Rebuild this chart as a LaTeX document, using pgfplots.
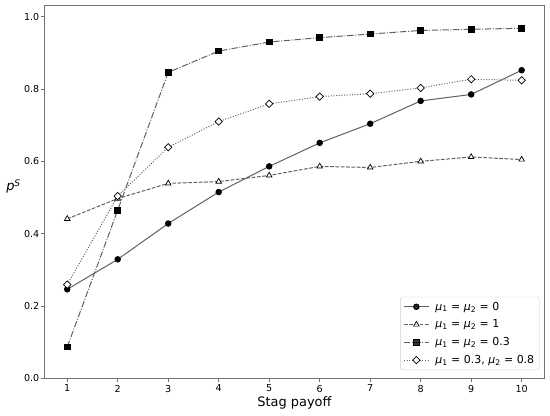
\documentclass[border=0pt]{standalone}
\usepackage{pgfplots}
\pgfplotsset{compat=1.18}
\usepackage{fontspec}
\setmainfont{DejaVu Sans}
\newcommand{\mui}[1]{{\itshape μ}\textsubscript{#1}}
\definecolor{linegray}{gray}{0.38}
\definecolor{framegray}{gray}{0.45}

\begin{document}
\begin{tikzpicture}
\path[use as bounding box] (-44.5bp,-37.7bp) rectangle (505.5bp,378.3bp);
\begin{axis}[
    scale only axis,
    width=499.9bp, height=373bp,
    xmin=0.55, xmax=10.45, ymin=0, ymax=1.0315,
    xtick={1,2,3,4,5,6,7,8,9,10},
    ytick={0,0.2,0.4,0.6,0.8,1.0},
    /pgf/number format/assume math mode=true,
    tick label style={font=\fontsize{9.6}{11.5}\selectfont},
    xticklabel style={yshift=0.3bp},
    yticklabel style={xshift=1.8bp},
    yticklabel={\pgfmathprintnumber[fixed, fixed zerofill, precision=1]{\tick}},
    tick align=outside, xtick pos=left, ytick pos=left,
    major tick length=3.5bp,
    every tick/.style={framegray, line width=0.8bp},
    axis line style={framegray, line width=0.8bp},
    xlabel={Stag payoff},
    xlabel style={font=\fontsize{13}{15}\selectfont, at={(axis description cs:0.5,0)}, anchor=base, yshift=-28.4bp},
    ylabel={{\itshape p}\textsuperscript{\itshape S}},
    ylabel style={font=\fontsize{13}{15}\selectfont, rotate=-90, at={(axis description cs:-0.062,0.515)}, anchor=center},
    legend cell align=left,
    legend style={at={(0.99,0.022)}, anchor=south east, font=\fontsize{11}{13}\selectfont,
        draw=black!20, rounded corners=2bp, fill=white, fill opacity=0.8, text opacity=1,
        row sep=4.2bp, inner sep=3bp},
    legend image code/.code={\draw[mark repeat=2, mark phase=2] plot coordinates {(0bp,0bp) (12.5bp,0bp) (25bp,0bp)};
        \path (29bp,0bp);},
]
\addplot[linegray, line width=1bp, mark=*, mark size=2.7bp, mark options={solid, fill=black, draw=black}]
  coordinates {(1,0.246) (2,0.329) (3,0.428) (4,0.515) (5,0.586) (6,0.651) (7,0.704) (8,0.767) (9,0.785) (10,0.852)};
\addplot[linegray, line width=1bp, dash pattern=on 3.7bp off 1.6bp, mark=triangle*, mark size=3.2bp, mark options={solid, fill=white, draw=black, line width=0.7bp}]
  coordinates {(1,0.441) (2,0.497) (3,0.539) (4,0.544) (5,0.561) (6,0.586) (7,0.583) (8,0.600) (9,0.612) (10,0.605)};
\addplot[linegray, line width=1bp, dash pattern=on 6.4bp off 1.6bp on 1bp off 1.6bp, mark=square*, mark size=2.9bp, mark options={solid, fill=black, draw=black}]
  coordinates {(1,0.0865) (2,0.465) (3,0.846) (4,0.905) (5,0.930) (6,0.942) (7,0.952) (8,0.962) (9,0.965) (10,0.968)};
\addplot[linegray, line width=1bp, dash pattern=on 1bp off 1.65bp, mark=square*, mark size=2.6bp, mark options={solid, rotate=45, fill=white, draw=black, line width=0.7bp}]
  coordinates {(1,0.259) (2,0.504) (3,0.639) (4,0.710) (5,0.759) (6,0.779) (7,0.787) (8,0.803) (9,0.827) (10,0.824)};
\legend{\mui{1} = \mui{2} = 0, \mui{1} = \mui{2} = 1, \mui{1} = \mui{2} = 0.3, {\mui{1} = 0.3, \mui{2} = 0.8}}
\end{axis}
\end{tikzpicture}
\end{document}
